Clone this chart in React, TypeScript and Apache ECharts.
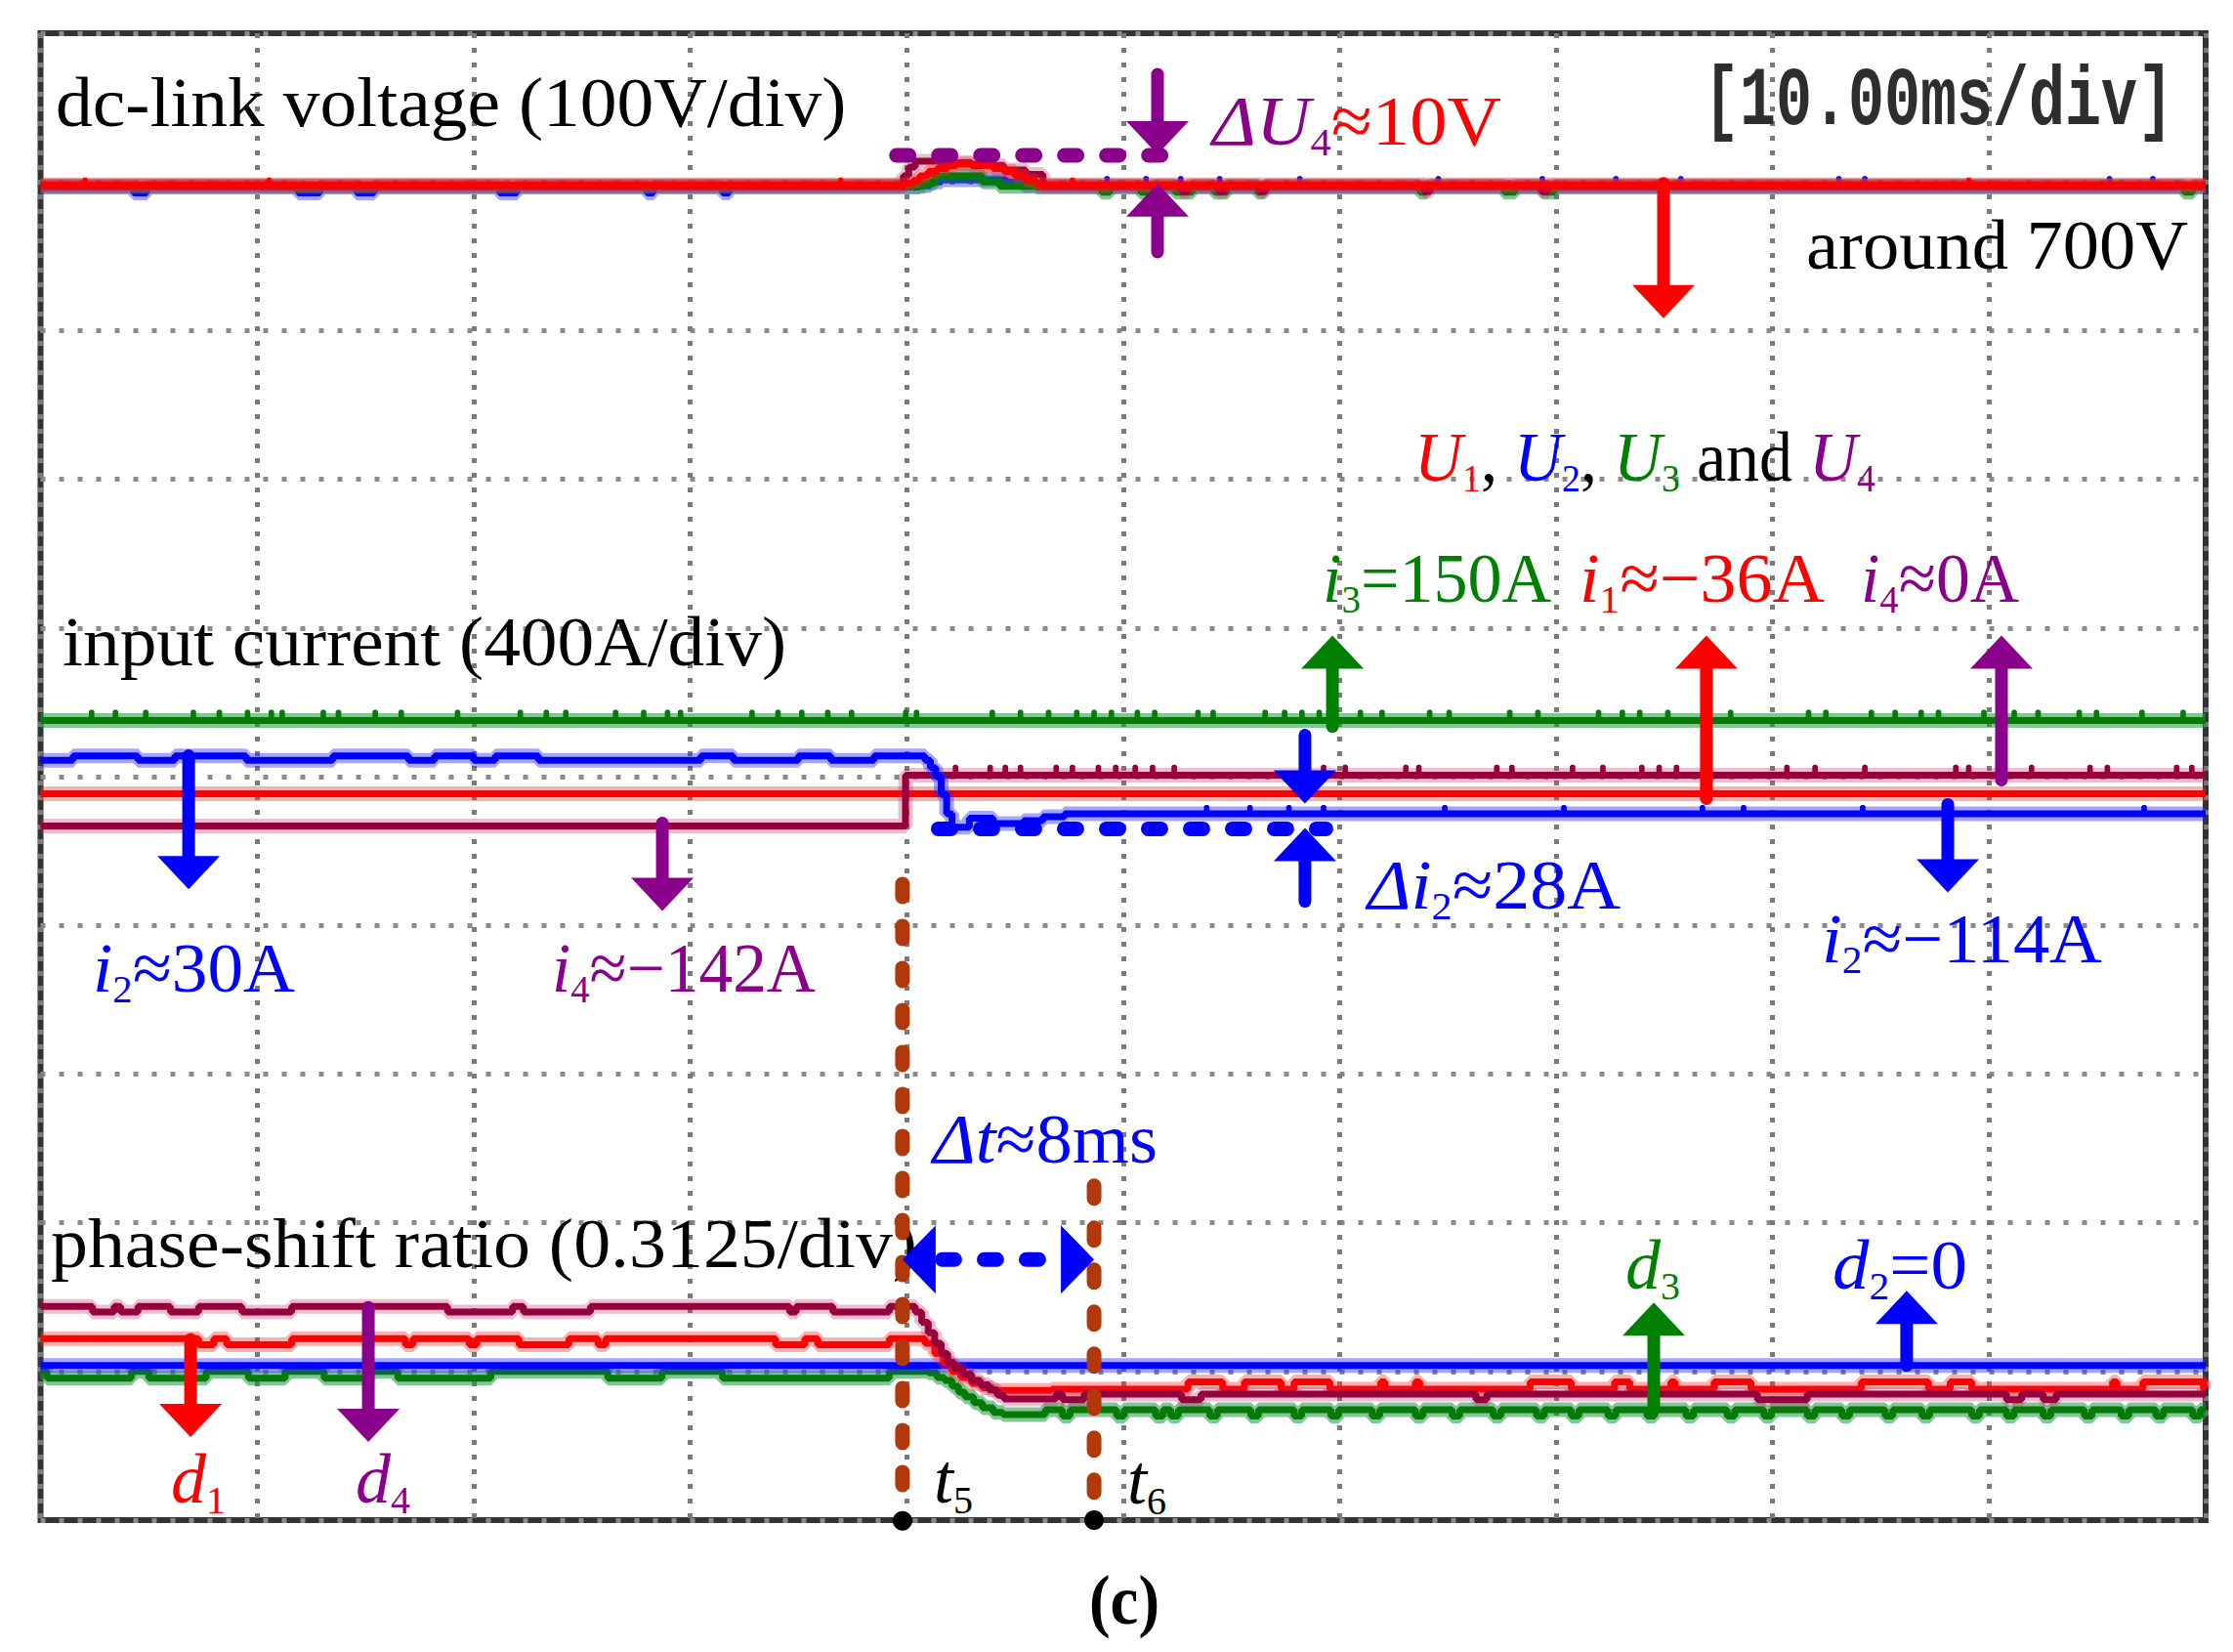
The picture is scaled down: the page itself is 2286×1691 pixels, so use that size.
import React, { useEffect, useRef } from "react";
import * as echarts from "echarts";

type Pt = [number, number];
type Span = number | [number, number];

// Screen: time axis in ms (10 ms/div), vertical axis in screen divisions (0 = bottom, 10 = top)
const timeTicks = [0, 10, 20, 30, 40, 50, 60, 70, 80, 90, 100];
const divTicks = [0, 1, 2, 3, 4, 5, 6, 7, 8, 9, 10];

// ---------------- dc-link voltage (100 V/div) ----------------
const U1Red: Pt[] = [[0, 8.98], [39.95, 8.99], [40.3, 9.01], [40.6, 9.04], [41.0, 9.07], [41.4, 9.09], [41.9, 9.11], [42.3, 9.12], [43.5, 9.11], [44.0, 9.09], [44.5, 9.07], [45.0, 9.04], [45.5, 9.01], [46.0, 8.98], [100, 8.98]];
const U1RedUp: Span[] = [2.0, 10.5, 36.9, 47.6, 89.0];
const U2Blue: Pt[] = [[0, 8.965], [40.6, 8.975], [41.1, 9.0], [41.6, 9.015], [44.6, 9.0], [45.4, 8.975], [46.0, 8.965], [100, 8.965]];
const U2BlueDown: Span[] = [[4.3, 4.9], [11.9, 12.9], [14.6, 15.4], [21.2, 22.0], [28.0, 28.3], [31.5, 31.8]];
const U2BlueUp: Span[] = [49.2, 51.0, 52.6, 54.4, 58.1, 64.5, 69.3, 72.7, 75.7, 83.0, 84.2, 95.5, 97.5];
const U3Green: Pt[] = [[0, 8.97], [40.8, 8.99], [41.3, 9.04], [42.9, 9.04], [43.5, 9.0], [44.3, 8.97], [100, 8.97]];
const U3GreenDown: Span[] = [[49.0, 49.4], [50.8, 51.4], [52.4, 53.2], [54.2, 54.8], [56.2, 56.5], [63.7, 64.0], [67.6, 68.1], [69.4, 69.9], [99.0, 99.4]];
const U4Maroon: Pt[] = [[0, 8.975], [39.85, 9.04], [40.1, 9.1], [40.4, 9.14], [41.5, 9.13], [43.0, 9.11], [44.5, 9.08], [45.5, 9.05], [46.3, 8.975], [100, 8.975]];
const U4MaroonDown: Span[] = [[52.7, 53.0], [54.4, 54.7], [56.3, 56.6], [63.9, 64.2], [69.3, 69.6]];

// ---------------- input current (400 A/div) ----------------
const i3Green: Pt[] = [[0, 5.378], [100, 5.378]];
const i3GreenUp: Span[] = [2.3, 3.4, 4.8, 7.0, 8.2, 9.5, 10.6, 11.1, 13.0, 13.7, 15.4, 16.6, 19.2, 22.1, 23.3, 24.2, 26.5, 27.8, 28.9, 29.5, 32.8, 34.0, 35.1, 36.3, 37.4, 39.9, 40.4, 43.9, 45.2, 46.5, 47.8, 48.6, 49.4, 50.6, 51.4, 53.4, 54.1, 56.5, 57.4, 58.2, 59.0, 60.9, 61.9, 64.1, 65.0, 67.8, 69.1, 71.9, 73.0, 73.8, 75.1, 78.0, 81.6, 82.4, 84.5, 85.6, 86.8, 87.6, 89.7, 91.1, 92.2, 94.1, 94.9, 97.0, 98.9];
const i1Red: Pt[] = [[0, 4.885], [100, 4.885]];
const i4Maroon: Pt[] = [[0, 4.668], [39.95, 5.01], [100, 5.01]];
const i4MaroonUp: Span[] = [42.2, 43.8, 44.5, 45.2, 46.85, 47.6, 48.8, 49.6, 50.5, 51.3, 52.3, 59.2, 60.2, 63.0, 63.6, 67.2, 67.9, 70.7, 72.1, 73.9, 74.7, 75.5, 80.6, 81.9, 84.2, 88.4, 89.0, 91.9, 94.6, 95.4, 98.6, 99.3];
const i2Blue: Pt[] = [[0, 5.11], [1.5, 5.14], [4.5, 5.11], [6.2, 5.14], [9.5, 5.11], [13.5, 5.14], [17, 5.11], [18.2, 5.14], [20, 5.11], [21, 5.14], [23, 5.11], [30.5, 5.14], [32, 5.11], [35, 5.14], [36.5, 5.11], [38.5, 5.14], [40.85, 5.11], [41.1, 5.06], [41.35, 5.0], [41.6, 4.88], [41.85, 4.75], [42.1, 4.66], [42.9, 4.72], [44.0, 4.685], [45.4, 4.705], [46.3, 4.73], [47.3, 4.75], [100, 4.75]];
const i2BlueUp: Span[] = [53.8, 55.8, 57.6, 59.2, 64.8, 70.3, 76.7, 78.6, 84.1, 97.1];

// ---------------- phase-shift ratio (0.3125/div) ----------------
const d2Blue: Pt[] = [[0, 1.04], [100, 1.04]];
const d3Green: Pt[] = [[0, 1.0], [41.0, 0.99], [41.4, 0.96], [41.75, 0.94], [42.1, 0.9], [42.4, 0.86], [42.7, 0.83], [43.1, 0.79], [43.5, 0.755], [44.0, 0.725], [44.45, 0.709], [46.4, 0.742], [100, 0.742]];
const d3GreenDownBefore: Span[] = [[0.3, 4.2], [5.0, 7.65], [9.6, 11.3], [13.1, 15.2], [16.5, 20.8], [26.2, 28.7], [31.5, 39.2]];
const d3GreenDownAfter: Span[] = [[47.2, 47.55], [49.7, 50.05], [51.5, 51.85], [52.2, 52.55], [54.0, 54.35], [55.9, 56.25], [57.9, 58.25], [59.6, 59.95], [61.5, 61.85], [63.5, 63.85], [65.2, 65.55], [67.1, 67.45], [69.1, 69.45], [70.7, 71.05], [72.4, 72.75], [74.2, 74.55], [76.0, 76.35], [77.9, 78.25], [79.6, 79.95], [81.6, 81.95], [83.2, 83.55], [85.2, 85.55], [86.9, 87.25], [89.2, 89.55], [90.8, 91.15], [92.5, 92.85], [94.4, 94.75], [96.1, 96.45], [97.7, 98.05], [99.4, 99.75]];
const d1Red: Pt[] = [[0, 1.221], [40.85, 1.19], [41.3, 1.12], [41.7, 1.06], [42.1, 1.0], [42.5, 0.96], [43.0, 0.92], [43.5, 0.89], [44.0, 0.873], [46.7, 0.88], [100, 0.88]];
const d1RedDown: Span[] = [[7.3, 8.0], [8.6, 11.6], [16.85, 17.2], [19.8, 20.15], [22.1, 24.4], [25.75, 26.1], [33.95, 35.3], [35.9, 39.2]];
const d1RedUp: Span[] = [[53.0, 54.6], [55.6, 57.3], [57.9, 59.55], [61.9, 62.1], [63.5, 63.7], [68.8, 70.7], [72.7, 73.4], [75.3, 75.5], [77.3, 79.0], [84.1, 87.2], [88.2, 89.2], [95.7, 95.9], [97.1, 99.9]];
const d4Maroon: Pt[] = [[0, 1.438], [40.4, 1.4], [40.7, 1.33], [41.0, 1.26], [41.3, 1.19], [41.6, 1.12], [41.9, 1.06], [42.2, 1.02], [42.6, 0.98], [43.0, 0.94], [43.4, 0.91], [43.8, 0.875], [44.2, 0.84], [44.5, 0.815], [46.9, 0.847], [100, 0.847]];
const d4MaroonDownBefore: Span[] = [[2.4, 3.4], [3.7, 4.5], [6.0, 7.3], [9.3, 11.6], [18.8, 21.8], [22.3, 25.4], [34.6, 34.9], [36.6, 39.2]];
const d4MaroonDownAfter: Span[] = [[47.2, 48.2], [52.7, 53.6], [66.3, 66.8], [79.3, 81.6], [90.8, 91.5], [92.5, 93.1]];

// ---------------- annotation anchors (ms, div) ----------------
const t5 = 39.81;
const t6 = 48.66;

const RED = "#ff0000";
const BLUE = "#0000ff";
const GREEN = "#008000";
const PURPLE = "#8b008b";
const BROWN = "#b0380a";

const COLORS: Record<string, [string, string]> = {
  red: ["#ff0000", "rgba(255,40,40,0.38)"],
  blue: ["#0000ff", "rgba(40,40,255,0.42)"],
  green: ["#067a06", "rgba(30,150,70,0.55)"],
  maroon: ["#96003c", "rgba(190,40,100,0.3)"],
};

function valueAt(pts: Pt[], t: number): number {
  let v = pts[0][1];
  for (const p of pts) {
    if (p[0] <= t) v = p[1];
    else break;
  }
  return v;
}

// insert short excursions into a stepped trace
function addBlips(pts: Pt[], spans: Span[], level: number, w = 0.12): Pt[] {
  const out: Pt[] = pts.map((p) => [p[0], p[1]] as Pt);
  for (const s of spans) {
    const a = typeof s === "number" ? s : s[0];
    const b = typeof s === "number" ? s + w : s[1];
    out.push([a, level]);
    out.push([b, valueAt(pts, b)]);
  }
  out.sort((p, q) => p[0] - q[0]);
  return out;
}

type Trace = { data: Pt[]; ticks?: Pt[]; color: string };

// ticks (single-sample spikes) are drawn as thin strokes on top of the trace
const traces: Trace[] = [
  // dc-link group
  { data: addBlips(U2Blue, U2BlueDown, 8.925), ticks: addBlips(U2Blue, U2BlueUp, 9.03), color: "blue" },
  { data: addBlips(U3Green, U3GreenDown, 8.93), color: "green" },
  { data: addBlips(U4Maroon, U4MaroonDown, 8.935), color: "maroon" },
  { data: U1Red, ticks: addBlips(U1Red, U1RedUp, 9.02), color: "red" },
  // current group
  { data: i3Green, ticks: addBlips(i3Green, i3GreenUp, 5.44), color: "green" },
  { data: i1Red, color: "red" },
  { data: i4Maroon, ticks: addBlips(i4Maroon, i4MaroonUp, 5.07), color: "maroon" },
  { data: i2Blue, ticks: addBlips(i2Blue, i2BlueUp, 4.8), color: "blue" },
  // phase-shift group
  { data: addBlips(addBlips(d3Green, d3GreenDownBefore, 0.955), d3GreenDownAfter, 0.70), color: "green" },
  { data: d2Blue, color: "blue" },
  { data: addBlips(addBlips(d1Red, d1RedDown, 1.18), d1RedUp, 0.93), color: "red" },
  { data: addBlips(addBlips(d4Maroon, d4MaroonDownBefore, 1.40), d4MaroonDownAfter, 0.81), color: "maroon" },
];

function buildOption(): any {
  const series: any[] = [];
  traces.forEach((tr) => {
    const [core, halo] = COLORS[tr.color];
    series.push({
      type: "line", step: "end", data: tr.data, symbol: "none", silent: true,
      lineStyle: { color: halo, width: 15 },
    });
    series.push({
      type: "line", step: "end", data: tr.data, symbol: "none", silent: true,
      lineStyle: { color: core, width: 7 },
    });
    if (tr.ticks) {
      series.push({
        type: "line", step: "end", data: tr.ticks, symbol: "none", silent: true,
        lineStyle: { color: core, width: 3 },
      });
    }
  });
  return {
    animation: false,
    backgroundColor: "#ffffff",
    grid: { left: 41.5, right: 28, top: 34, bottom: 135, show: true, borderColor: "#333333", borderWidth: 6, backgroundColor: "#ffffff" },
    xAxis: {
      type: "value", min: timeTicks[0], max: timeTicks[timeTicks.length - 1], interval: timeTicks[1] - timeTicks[0],
      axisLabel: { show: false }, axisLine: { show: false }, axisTick: { show: false },
      splitLine: { show: true, lineStyle: { color: "#7a7a7a", width: 5, type: [5, 10] } },
    },
    yAxis: {
      type: "value", min: divTicks[0], max: divTicks[divTicks.length - 1], interval: divTicks[1] - divTicks[0],
      axisLabel: { show: false }, axisLine: { show: false }, axisTick: { show: false },
      splitLine: { show: true, lineStyle: { color: "#8a8a8a", width: 5, type: [5, 14] } },
    },
    series,
  };
}

type Piece = { t: string; c?: string; it?: boolean; sub?: boolean; b?: boolean; fam?: string };
type Label = { x: number; y: number; w?: number; size?: number; p: Piece[] };

const SERIF = '"Liberation Serif", "Times New Roman", serif';

const labels: Label[] = [
  { x: 57, y: 105, w: 810, p: [{ t: "dc-link voltage (100V/div)" }] },
  { x: 1744, y: 104, w: 481, size: 86, p: [{ t: "[10.00ms/div]", c: "#2e2e2e", b: true, fam: '"Liberation Mono", monospace' }] },
  { x: 1241, y: 124, w: 296, p: [{ t: "Δ", c: PURPLE, it: true }, { t: "U", c: PURPLE, it: true }, { t: "4", c: PURPLE, sub: true }, { t: "≈10V", c: RED }] },
  { x: 1849, y: 251, w: 391, p: [{ t: "around 700V" }] },
  {
    x: 1448, y: 468, w: 472, p: [
      { t: "U", c: RED, it: true }, { t: "1", c: RED, sub: true }, { t: ", " },
      { t: "U", c: BLUE, it: true }, { t: "2", c: BLUE, sub: true }, { t: ", " },
      { t: "U", c: GREEN, it: true }, { t: "3", c: GREEN, sub: true }, { t: " and " },
      { t: "U", c: PURPLE, it: true }, { t: "4", c: PURPLE, sub: true },
    ],
  },
  { x: 64, y: 657, w: 741, p: [{ t: "input current (400A/div)" }] },
  { x: 1354, y: 592, w: 234, p: [{ t: "i", c: GREEN, it: true }, { t: "3", c: GREEN, sub: true }, { t: "=150A", c: GREEN }] },
  { x: 1617, y: 592, w: 251, p: [{ t: "i", c: RED, it: true }, { t: "1", c: RED, sub: true }, { t: "≈−36A", c: RED }] },
  { x: 1905, y: 592, w: 162, p: [{ t: "i", c: PURPLE, it: true }, { t: "4", c: PURPLE, sub: true }, { t: "≈0A", c: PURPLE }] },
  { x: 1400, y: 906, w: 259, p: [{ t: "Δ", c: BLUE, it: true }, { t: "i", c: BLUE, it: true }, { t: "2", c: BLUE, sub: true }, { t: "≈28A", c: BLUE }] },
  { x: 95, y: 991, w: 207, p: [{ t: "i", c: BLUE, it: true }, { t: "2", c: BLUE, sub: true }, { t: "≈30A", c: BLUE }] },
  { x: 565, y: 991, w: 270, p: [{ t: "i", c: PURPLE, it: true }, { t: "4", c: PURPLE, sub: true }, { t: "≈−142A", c: PURPLE }] },
  { x: 1865, y: 961, w: 287, p: [{ t: "i", c: BLUE, it: true }, { t: "2", c: BLUE, sub: true }, { t: "≈−114A", c: BLUE }] },
  { x: 955, y: 1166, w: 230, p: [{ t: "Δ", c: BLUE, it: true }, { t: "t", c: BLUE, it: true }, { t: "≈8ms", c: BLUE }] },
  { x: 52, y: 1273, w: 887, p: [{ t: "phase-shift ratio (0.3125/div)" }] },
  { x: 1664, y: 1295, p: [{ t: "d", c: GREEN, it: true }, { t: "3", c: GREEN, sub: true }] },
  { x: 1876, y: 1295, w: 138, p: [{ t: "d", c: BLUE, it: true }, { t: "2", c: BLUE, sub: true }, { t: "=0", c: BLUE }] },
  { x: 175, y: 1514, p: [{ t: "d", c: RED, it: true }, { t: "1", c: RED, sub: true }] },
  { x: 364, y: 1514, p: [{ t: "d", c: PURPLE, it: true }, { t: "4", c: PURPLE, sub: true }] },
  { x: 956, y: 1514, p: [{ t: "t", it: true }, { t: "5", sub: true }] },
  { x: 1154, y: 1515, p: [{ t: "t", it: true }, { t: "6", sub: true }] },
  { x: 1115, y: 1638, w: 72, p: [{ t: "(c)", b: true }] },
];

// arrows: x (ms), from (div, tail) -> to (div, tip)
const arrows = [
  { x: 51.59, from: 9.724, to: 9.186, c: PURPLE },
  { x: 51.59, from: 8.529, to: 8.989, c: PURPLE },
  { x: 74.96, from: 8.989, to: 8.083, c: RED },
  { x: 59.67, from: 5.338, to: 5.949, c: GREEN },
  { x: 76.94, from: 4.852, to: 5.949, c: RED },
  { x: 90.57, from: 4.977, to: 5.949, c: PURPLE },
  { x: 58.40, from: 5.279, to: 4.819, c: BLUE },
  { x: 58.40, from: 4.162, to: 4.655, c: BLUE },
  { x: 88.09, from: 4.813, to: 4.222, c: BLUE },
  { x: 6.84, from: 5.141, to: 4.242, c: BLUE },
  { x: 28.72, from: 4.688, to: 4.097, c: PURPLE },
  { x: 6.93, from: 1.215, to: 0.558, c: RED },
  { x: 15.14, from: 1.431, to: 0.525, c: PURPLE },
  { x: 74.51, from: 0.742, to: 1.464, c: GREEN },
  { x: 86.19, from: 1.04, to: 1.543, c: BLUE },
];

// dotted markers: [x1, x2] (ms) at level (div)
const dottedLines = [
  { x1: 39.53, x2: 53.06, y: 9.179, c: PURPLE },
  { x1: 41.46, x2: 59.37, y: 4.649, c: BLUE },
  { x1: 41.64, x2: 46.83, y: 1.753, c: BLUE },
];
const timeMarkers = [
  { t: t5, top: 4.278 },
  { t: t6, top: 2.249 },
];
const deltaT = { y: 1.753 };

function buildGraphics(chart: echarts.ECharts): any[] {
  const px = (x: number, y: number): number[] => chart.convertToPixel({ gridIndex: 0 } as any, [x, y]) as number[];
  const els: any[] = [];
  const canvas = document.createElement("canvas");
  const ctx = canvas.getContext("2d");

  // labels
  labels.forEach((lb) => {
    const size = lb.size || 72;
    let cx = 0;
    const kids: any[] = [];
    lb.p.forEach((pc) => {
      const fs = Math.round(pc.sub ? size * 0.56 : size);
      const font = `${pc.it ? "italic " : ""}${pc.b ? "bold " : ""}${fs}px ${pc.fam || SERIF}`;
      let w = pc.t.length * fs * 0.5;
      if (ctx) {
        ctx.font = font;
        w = ctx.measureText(pc.t).width;
      }
      kids.push({
        type: "text",
        x: cx,
        y: pc.sub ? size * 0.3 : 0,
        style: {
          text: pc.t, font, fill: pc.c || "#000000",
          textAlign: "left", textVerticalAlign: "middle", align: "left", verticalAlign: "middle",
        },
      });
      cx += w;
    });
    const s = lb.w ? lb.w / cx : 1;
    els.push({ type: "group", x: lb.x, y: lb.y, scaleX: s, children: kids, z: 100 });
  });

  // time markers (brown dashed)
  timeMarkers.forEach((m) => {
    const [x, y1] = px(m.t, m.top);
    const [, y2] = px(m.t, 0);
    els.push({ type: "line", z: 105, shape: { x1: x, y1, x2: x, y2: y2 - 8 }, style: { stroke: BROWN, lineWidth: 15, lineCap: "round", lineDash: [13, 30] } });
    els.push({ type: "circle", z: 106, shape: { cx: x, cy: y2, r: 10 }, style: { fill: "#000000" } });
  });

  // dotted measurement lines
  dottedLines.forEach((d) => {
    const [xa, y] = px(d.x1, d.y);
    const [xb] = px(d.x2, d.y);
    els.push({ type: "line", z: 107, shape: { x1: xa, y1: y, x2: xb, y2: y }, style: { stroke: d.c, lineWidth: 15, lineCap: "round", lineDash: [13, 30] } });
  });

  // double arrow heads for delta t
  {
    const [xl, y] = px(t5, deltaT.y);
    const [xr] = px(t6, deltaT.y);
    els.push({ type: "polygon", z: 108, shape: { points: [[xl, y], [xl + 34, y - 35], [xl + 34, y + 35]] }, style: { fill: BLUE } });
    els.push({ type: "polygon", z: 108, shape: { points: [[xr, y], [xr - 34, y - 35], [xr - 34, y + 35]] }, style: { fill: BLUE } });
  }

  // vertical arrows
  arrows.forEach((a) => {
    const [x, y1] = px(a.x, a.from);
    const [, y2] = px(a.x, a.to);
    const dir = Math.sign(y2 - y1);
    const baseY = y2 - dir * 34;
    els.push({ type: "line", z: 110, shape: { x1: x, y1, x2: x, y2: baseY + dir * 4 }, style: { stroke: a.c, lineWidth: 13, lineCap: "round" } });
    els.push({ type: "polygon", z: 110, shape: { points: [[x, y2], [x - 32, baseY], [x + 32, baseY]] }, style: { fill: a.c } });
  });

  return els;
}

export default function App() {
  const ref = useRef<HTMLDivElement>(null);
  useEffect(() => {
    document.body.style.margin = "0";
    if (!ref.current) return;
    const chart = echarts.init(ref.current, null, { renderer: "svg" });
    chart.setOption(buildOption());
    chart.setOption({ graphic: { elements: buildGraphics(chart) } });
    return () => chart.dispose();
  }, []);
  return <div ref={ref} style={{ width: 2286, height: 1691, background: "#ffffff" }} />;
}
